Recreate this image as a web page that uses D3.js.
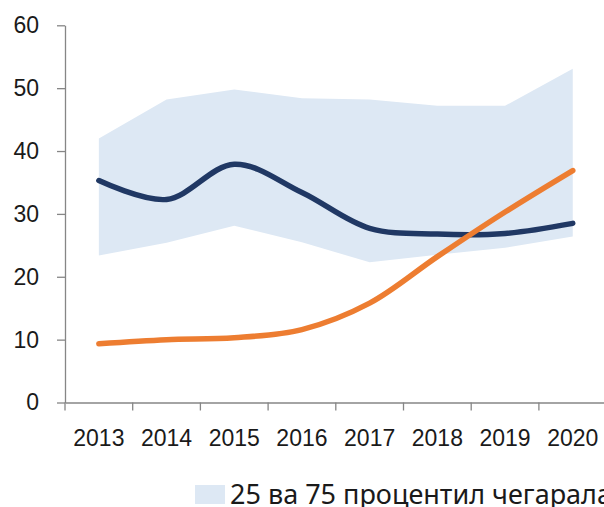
<!DOCTYPE html>
<html lang="uz">
<head>
    <meta charset="UTF-8">
    <title>Chart</title>
    <script src="https://d3js.org/d3.v7.min.js"></script>
    <style>
        body { margin: 0; background: #fff; }
        svg { display: block; font-family: "Noto Sans", "Open Sans", sans-serif; }
        .axis path, .axis line { stroke: #868686; stroke-width: 1.3px; }
        .axis text { fill: #1a1a1a; font-size: 23px; }
        .legend text { fill: #1a1a1a; font-size: 27px; }
    </style>
</head>
<body>
<div id="chart"></div>
<script>
    // data
    const years = ["2013", "2014", "2015", "2016", "2017", "2018", "2019", "2020"];
    const bandLow = [23.4, 25.4, 28.1, 25.5, 22.3, 23.5, 24.6, 26.4];
    const bandHigh = [42.0, 48.2, 49.8, 48.4, 48.2, 47.2, 47.2, 53.1];
    const navySeries = [35.3, 32.3, 37.9, 33.4, 27.7, 26.8, 26.9, 28.5];
    const orangeSeries = [9.35, 10.0, 10.3, 11.6, 15.8, 23.2, 30.3, 36.9];
    const yTicks = [0, 10, 20, 30, 40, 50, 60];
    const legendLabel = "25 ва 75 процентил чегаралари";

    const width = 604, height = 507;

    const svg = d3.select("#chart")
        .append("svg")
        .attr("width", width)
        .attr("height", height);

    const x = d3.scaleBand()
        .domain(years)
        .range([65, 606.6]);

    const y = d3.scaleLinear()
        .domain([0, 60])
        .range([402.5, 25.3]);

    const cx = d => x(d) + x.bandwidth() / 2;

    // shaded percentile band
    const area = d3.area()
        .x((d, i) => cx(years[i]))
        .y0(d => y(d[0]))
        .y1(d => y(d[1]));

    svg.append("path")
        .datum(bandLow.map((v, i) => [v, bandHigh[i]]))
        .attr("fill", "#dde8f4")
        .attr("d", area);

    // axes
    const yAxis = svg.append("g")
        .attr("class", "axis")
        .attr("transform", "translate(65,0)")
        .call(d3.axisLeft(y).tickValues(yTicks).tickSize(8).tickPadding(18).tickSizeOuter(0));

    const xAxis = svg.append("g")
        .attr("class", "axis")
        .attr("transform", `translate(0,${y(0)})`)
        .call(d3.axisBottom(x).tickSize(0).tickPadding(27));

    // tick marks sit between categories
    xAxis.selectAll(".boundary")
        .data(years)
        .join("line")
        .attr("class", "boundary")
        .attr("x1", d => x(d))
        .attr("x2", d => x(d))
        .attr("y1", 0)
        .attr("y2", 8);

    // lines
    const line = d3.line()
        .x((d, i) => cx(years[i]))
        .y(d => y(d))
        .curve(d3.curveCatmullRom.alpha(0.5));

    svg.append("path")
        .datum(navySeries)
        .attr("fill", "none")
        .attr("stroke", "#203864")
        .attr("stroke-width", 5.5)
        .attr("stroke-linecap", "round")
        .attr("d", line);

    svg.append("path")
        .datum(orangeSeries)
        .attr("fill", "none")
        .attr("stroke", "#ed7d31")
        .attr("stroke-width", 5.5)
        .attr("stroke-linecap", "round")
        .attr("d", line);

    // legend
    const legend = svg.append("g").attr("class", "legend");
    legend.append("rect")
        .attr("x", 195).attr("y", 485)
        .attr("width", 30).attr("height", 19)
        .attr("fill", "#dde8f4");
    legend.append("text")
        .attr("x", 230).attr("y", 503.5)
        .text(legendLabel);
</script>
</body>
</html>
